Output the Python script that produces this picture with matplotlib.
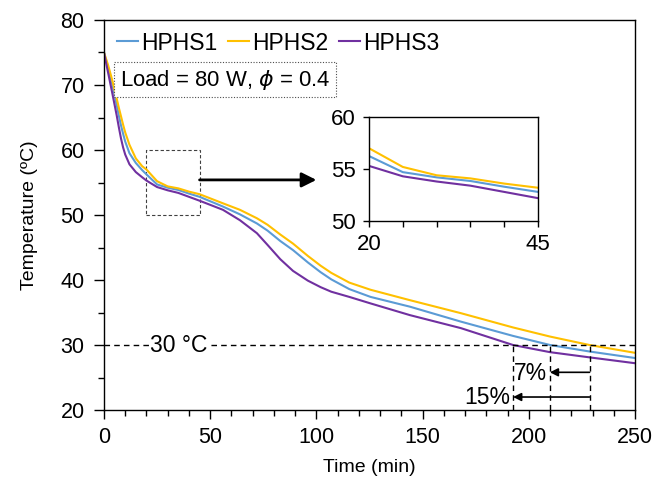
import matplotlib
matplotlib.use("Agg")
import matplotlib.pyplot as plt
from matplotlib.patches import Rectangle
from matplotlib.ticker import MultipleLocator

plt.rcParams['font.family'] = ['Liberation Sans', 'DejaVu Sans']
plt.rcParams['mathtext.fontset'] = 'dejavusans'

time = [0, 2, 4, 6, 7, 8, 9, 10, 12, 15, 18, 20, 25, 30, 35, 40, 45, 56, 64, 72, 77, 83, 89,
        96, 102, 107, 115.5, 125.5, 144, 168, 192.6, 210, 228.6, 250]
hphs1 = [75, 72.6, 70.0, 66.9, 65.3, 63.8, 62.5, 61.3, 59.5, 58.0, 56.9, 56.25, 54.7, 54.2, 53.85,
         53.3, 52.8, 51.3, 50.1, 48.7, 47.6, 46.0, 44.6, 42.7, 41.2, 40.1, 38.6, 37.4, 35.9, 33.6,
         31.4, 30.0, 29.0, 28.0]
hphs2 = [75, 73.0, 70.6, 67.9, 66.5, 65.2, 63.9, 62.7, 60.8, 58.7, 57.5, 57.0, 55.2, 54.4, 54.1,
         53.6, 53.2, 51.8, 50.8, 49.5, 48.5, 47.0, 45.6, 43.7, 42.2, 41.1, 39.6, 38.5, 36.9, 34.9,
         32.7, 31.3, 30.0, 28.8]
hphs3 = [75, 71.8, 68.6, 65.3, 63.5, 61.8, 60.4, 59.3, 57.8, 56.6, 55.8, 55.3, 54.3, 53.8, 53.4,
         52.8, 52.2, 50.8, 49.2, 47.2, 45.4, 43.2, 41.4, 39.9, 38.9, 38.2, 37.4, 36.4, 34.6, 32.6,
         30.0, 28.9, 28.1, 27.2]
labels = ['HPHS1', 'HPHS2', 'HPHS3']
colors = ['#5B9BD5', '#FFC000', '#7030A0']
series = [hphs1, hphs2, hphs3]

cross_times = [192.6, 209.9, 228.6]   # times reaching 30 °C (HPHS3, HPHS1, HPHS2)
pct_labels = ['7%', '15%']

fig = plt.figure(figsize=(6.56, 4.83), dpi=100)
ax = fig.add_axes([0.1585, 0.1511, 0.8095, 0.8075])

for y, c, l in zip(series, colors, labels):
    ax.plot(time, y, color=c, lw=1.5, label=l)

ax.set_xlim(0, 250)
ax.set_ylim(20, 80)
ax.xaxis.set_major_locator(MultipleLocator(50))
ax.xaxis.set_minor_locator(MultipleLocator(10))
ax.yaxis.set_major_locator(MultipleLocator(10))
ax.yaxis.set_minor_locator(MultipleLocator(5))
ax.tick_params(axis='x', which='major', direction='out', length=6.5, width=1, labelsize=15.5, pad=6)
ax.tick_params(axis='y', which='major', direction='out', length=7, width=1, labelsize=15.5, pad=7)
ax.tick_params(which='minor', direction='out', length=4.5, width=1)
for s in ax.spines.values():
    s.set_linewidth(1)
ax.set_xlabel('Time (min)', fontsize=14, labelpad=8)
ax.set_ylabel('Temperature (ºC)', fontsize=14, labelpad=16)

leg = ax.legend(loc='center left', ncol=3, frameon=False, fontsize=16.5, handlelength=0.92,
                handletextpad=0.16, columnspacing=0.44, bbox_to_anchor=(0.024, 0.941),
                borderaxespad=0, borderpad=0)

ax.text(7.5, 70.8, 'Load = 80 W, $\\phi$ = 0.4', fontsize=15.9, va='center', ha='left',
        bbox=dict(boxstyle='square,pad=0.25', fc='white', ec='0.3', ls=(0, (1, 1.5)), lw=0.8))

# 30 °C line
ax.axhline(30, color='black', ls=(0, (4, 3)), lw=1)
ax.text(35, 30, '30 °C', fontsize=16.5, ha='center', va='center',
        bbox=dict(fc='white', ec='none', pad=0.5))

for t in cross_times:
    ax.plot([t, t], [20, 30], color='black', ls=(0, (4, 3)), lw=1)

ax.annotate('', xy=(cross_times[1], 25.8), xytext=(cross_times[2], 25.8),
            arrowprops=dict(arrowstyle='-|>', color='black', lw=1.2, mutation_scale=12,
                            shrinkA=0, shrinkB=0))
ax.annotate('', xy=(cross_times[0], 22.0), xytext=(cross_times[2], 22.0),
            arrowprops=dict(arrowstyle='-|>', color='black', lw=1.2, mutation_scale=12,
                            shrinkA=0, shrinkB=0))
ax.text(cross_times[0] + 0.3, 25.6, pct_labels[0], fontsize=16.5, ha='left', va='center')
ax.text(cross_times[0] - 1.5, 22.0, pct_labels[1], fontsize=16.5, ha='right', va='center')

# zoom box and arrow
ax.add_patch(Rectangle((20, 50), 25, 10, fill=False, ec='0.25', ls=(0, (3, 2)), lw=0.8))
ax.annotate('', xy=(100, 55.4), xytext=(45, 55.4),
            arrowprops=dict(arrowstyle='-|>', color='black', lw=2, mutation_scale=22,
                            shrinkA=0, shrinkB=0))

# inset
ins = fig.add_axes([0.5625, 0.5424, 0.2576, 0.2153])
for y, c in zip(series, colors):
    ins.plot(time, y, color=c, lw=1.5)
ins.set_xlim(20, 45)
ins.set_ylim(50, 60)
ins.set_xticks([20, 45])
ins.xaxis.set_minor_locator(MultipleLocator(5))
ins.set_yticks([50, 55, 60])
ins.tick_params(which='both', direction='out', length=4.5, width=1, labelsize=16, pad=5)
for s in ins.spines.values():
    s.set_linewidth(1)

fig.savefig('out.png', dpi=100)
